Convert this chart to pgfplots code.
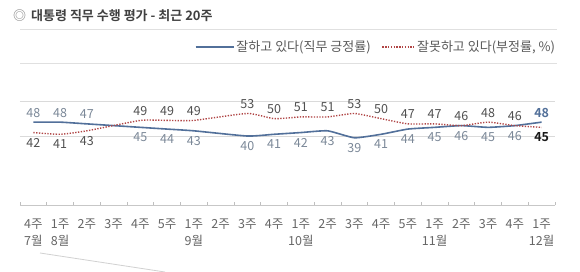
\documentclass[border=0pt]{standalone}
\usepackage{fontspec}
\setmainfont{Noto Sans CJK KR}[BoldFont={Noto Sans CJK KR Bold}]
\usepackage{pgfplots}
\pgfplotsset{compat=1.18}
\definecolor{posline}{HTML}{52709A}
\definecolor{negline}{HTML}{B04545}
\definecolor{poslab}{HTML}{7B8898}
\definecolor{neglab}{HTML}{505050}
\definecolor{ticklab}{HTML}{666666}
\definecolor{rulegray}{HTML}{E0E0E0}
\definecolor{gridgray}{HTML}{DADADA}
\pgfplotsset{
  labup/.style={draw=none, mark=none, forget plot, nodes near coords,
    every node near coord/.append style={font=\fontsize{12.5}{14}\selectfont, anchor=base, inner sep=0pt, yshift=5pt, text=#1}},
  labdown/.style={draw=none, mark=none, forget plot, nodes near coords,
    every node near coord/.append style={font=\fontsize{12.5}{14}\selectfont, anchor=base, inner sep=0pt, yshift=-14.5pt, text=#1}},
}
\begin{document}
\begin{tikzpicture}
\useasboundingbox (0,0) rectangle (580pt,272pt);
\fill[white] (0,0) rectangle (580pt,272pt);
% title and rules
\node[anchor=west, inner sep=0pt, font=\fontsize{13}{15}\selectfont\bfseries, text=black!75] at (13pt,256pt) {\textcolor{black!45}{◎}\hspace{5pt}대통령 직무 수행 평가 - 최근 20주};
\draw[rulegray, line width=1pt] (20pt,242pt) -- (557pt,242pt);
\draw[rulegray, line width=1pt] (20pt,208pt) -- (557pt,208pt);
\draw[black!18, line width=0.8pt] (40pt,19pt) -- (165pt,0pt);
\begin{axis}[
  at={(20pt,66.5pt)}, anchor=south west,
  scale only axis, width=535pt, height=104.2pt,
  xmin=-0.5, xmax=19.5, ymin=0, ymax=60,
  axis x line*=bottom, axis y line*=left,
  y axis line style={draw=none},
  x axis line style={draw=black!22, line width=0.8pt},
  ytick={40,60}, yticklabels={}, major y tick style={draw=none},
  ymajorgrids, grid style={gridgray, line width=0.8pt},
  xtick={0,...,19},
  xticklabels={{4주\\7월},{1주\\8월},2주,3주,4주,5주,{1주\\9월},2주,3주,4주,{1주\\10월},2주,3주,4주,5주,{1주\\11월},2주,3주,4주,{1주\\12월}},
  major x tick style={draw=none},
  minor xtick={-0.5,0.5,...,19.5},
  minor x tick style={draw=black!25, line width=0.8pt},
  minor tick length=3pt, tick align=inside,
  xticklabel style={font=\fontsize{12.5}{17}\selectfont, align=center, text=ticklab, yshift=-10pt},
  /pgf/number format/assume math mode=true,
  clip=false,
  legend style={at={(1.004,1.521)}, anchor=east, draw=none, fill=none,
    legend columns=2, font=\fontsize{13}{15}\selectfont, text=black!65,
    /tikz/every even column/.append style={column sep=9pt}, inner sep=0pt},
]
\addplot[posline, line width=1.6pt, smooth, tension=0.3, mark=none,
  legend image code/.code={\draw[posline, line width=1.6pt] (0pt,0pt) -- (38pt,0pt);}]
  coordinates {(0,48)(1,48)(2,47)(4,45)(5,44)(6,43)(8,40)(9,41)(10,42)(11,43)(12,39)(13,41)(14,44)(15,45)(16,46)(17,45)(18,46)(19,48)};
\addlegendentry{잘하고 있다(직무 긍정률)}
\addplot[negline, line width=1.4pt, dash pattern=on 1.3pt off 1.5pt, smooth, tension=0.3, mark=none,
  legend image code/.code={\draw[negline, line width=1.4pt, dash pattern=on 1.3pt off 1.5pt] (0pt,0pt) -- (32pt,0pt);}]
  coordinates {(0,42)(1,41)(2,43)(4,49)(5,49)(6,49)(8,53)(9,50)(10,51)(11,51)(12,53)(13,50)(14,47)(15,47)(16,46)(17,48)(18,46)(19,45)};
\addlegendentry{잘못하고 있다(부정률, \%)}
% labels: positive
\addplot[labup=poslab] coordinates {(0,48)(1,48)(2,47)};
\addplot[labdown=poslab] coordinates {(4,45)(5,44)(6,43)(8,40)(9,41)(10,42)(11,43)(12,39)(13,41)(14,44)(15,45)(16,46)(17,45)(18,46)};
% labels: negative
\addplot[labdown=neglab] coordinates {(0,42)(1,41)(2,43)};
\addplot[labup=neglab] coordinates {(4,49)(5,49)(6,49)(8,53)(9,50)(10,51)(11,51)(12,53)(13,50)(14,47)(15,47)(16,46)(17,48)(18,46)};
% last week, bold
\addplot[labup=posline, every node near coord/.append style={font=\fontsize{12.5}{14}\selectfont\bfseries}] coordinates {(19,48)};
\addplot[labdown=black!90, every node near coord/.append style={font=\fontsize{12.5}{14}\selectfont\bfseries}] coordinates {(19,45)};
\end{axis}
\end{tikzpicture}
\end{document}
